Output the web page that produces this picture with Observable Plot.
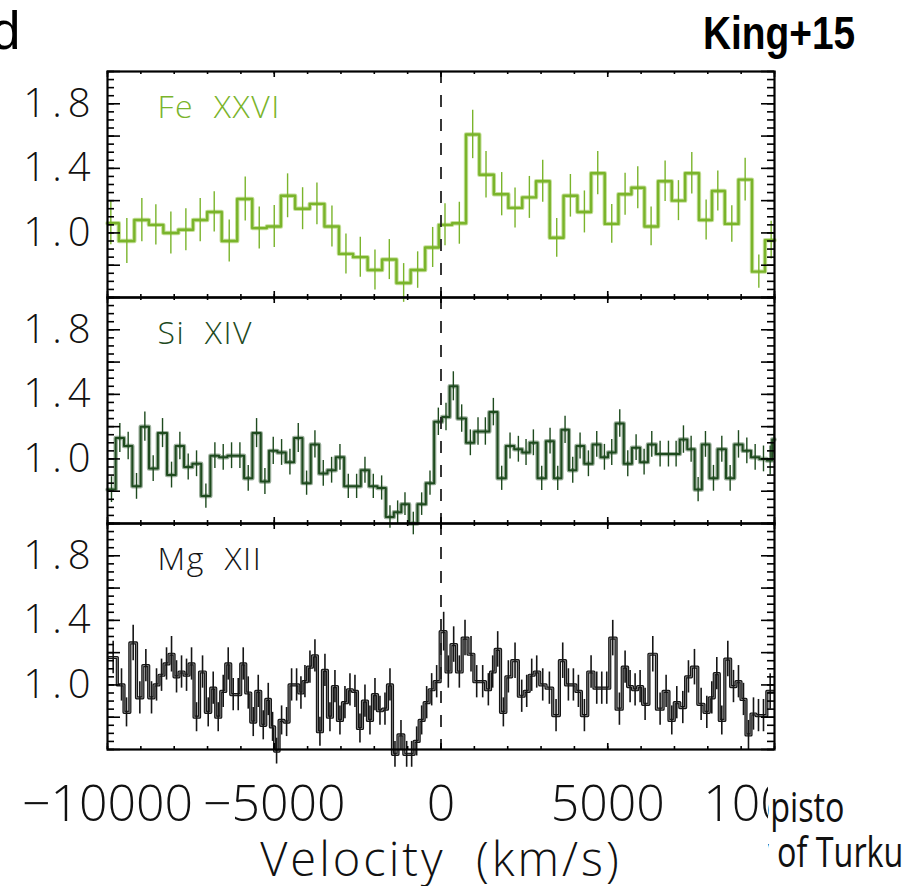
<!DOCTYPE html>
<html>
<head>
<meta charset="utf-8">
<script src="https://cdn.jsdelivr.net/npm/d3@7"></script>
<script src="https://cdn.jsdelivr.net/npm/@observablehq/plot@0.6"></script>
<style>
  html, body { margin: 0; padding: 0; background: #fff; }
  #fig { position: relative; width: 918px; height: 886px; overflow: hidden; background: #fff; }
  #chart svg { display: block; }
  #chart g[aria-label="y-axis tick label"] text { letter-spacing: 6px; }
  #chart g[aria-label="text"] text { letter-spacing: 3px; }
  #chart g[aria-label="text"].panel-title text { letter-spacing: 1.5px; }
  .tag { position: absolute; white-space: nowrap; line-height: 1; color: #000; }
  .letter { left: -9px; top: 0px; font: 53px "Liberation Sans", Arial, sans-serif; }
  .ref { right: 63px; top: 6px; font: bold 46px "Liberation Sans", Arial, sans-serif;
         transform: scaleX(0.845); transform-origin: right center; }
  .badge { position: absolute; left: 768px; top: 762px; width: 150px; height: 124px;
           background: #fff; overflow: hidden; }
  .badge div { position: absolute; white-space: nowrap; font: 42px "Open Sans", sans-serif;
               line-height: 45px; color: #111; transform: scaleX(0.77); transform-origin: right center; }
</style>
</head>
<body>
<div id="fig">
  <div id="chart"></div>
  <div class="tag letter">d</div>
  <div class="tag ref">King+15</div>
  <div class="badge">
    <div style="right:73px; top:21px;">Turun yliopisto</div>
    <div style="right:15px; top:66px;">University of Turku</div>
  </div>
</div>
<script>
// Panels (ion lines), top to bottom, and their colours
const panels = ["Fe XXVI", "Si XIV", "Mg XII"];
const panelTitles = ["Fe\u00a0\u00a0XXVI", "Si\u00a0\u00a0XIV", "Mg\u00a0\u00a0XII"];
const panelColors = ["#7ab42b", "#1e4a1e", "#151515"];
const haloColors = ["#c6e09c", "#9db09d", "#8a8a8a"];

// Axis ticks
const xTickValues = [-10000, -5000, 0, 5000, 10000];
const yTickValues = [1.0, 1.4, 1.8];
const yDomain = [0.6, 2.0];

// Fe XXVI: bin centre velocity (km/s), normalised flux, 1-sigma error
const feVelocity = [-9900, -9420, -8970, -8550, -8100, -7650, -7220, -6800, -6350, -5870,
  -5450, -5000, -4600, -4150, -3720, -3270, -2850, -2420, -1980, -1550,
  -1120, -700, -250, 120, 550, 950, 1350, 1820, 2220, 2650,
  3050, 3470, 3880, 4300, 4700, 5120, 5520, 5900, 6300, 6720,
  7120, 7520, 7950, 8300, 8720, 9120, 9530, 9900];
const feFlux = [1.06, 0.95, 1.08, 1.05, 1.00, 1.02, 1.08, 1.13, 0.95, 1.21,
  1.03, 1.04, 1.23, 1.15, 1.18, 1.04, 0.87, 0.85, 0.77, 0.835,
  0.69, 0.77, 0.91, 1.05, 1.06, 1.61, 1.36, 1.24, 1.155, 1.22,
  1.32, 0.97, 1.23, 1.13, 1.37, 1.056, 1.24, 1.28, 1.04, 1.32,
  1.20, 1.37, 1.08, 1.26, 1.056, 1.33, 0.76, 0.955];
const feError = [0.134, 0.14, 0.134, 0.125, 0.13, 0.13, 0.134, 0.125, 0.13, 0.136,
  0.13, 0.13, 0.136, 0.13, 0.13, 0.127, 0.124, 0.124, 0.124, 0.124,
  0.12, 0.113, 0.124, 0.13, 0.13, 0.15, 0.144, 0.134, 0.124, 0.13,
  0.13, 0.12, 0.132, 0.13, 0.134, 0.12, 0.13, 0.13, 0.12, 0.126,
  0.124, 0.129, 0.124, 0.124, 0.113, 0.132, 0.103, 0.117];

// Si XIV
const siVelocity = [-9880, -9630, -9380, -9130, -8880, -8630, -8350, -8080, -7830, -7580,
  -7330, -7050, -6780, -6530, -6280, -6030, -5780, -5530, -5280, -5030,
  -4780, -4530, -4280, -4030, -3780, -3530, -3280, -3030, -2780, -2530,
  -2280, -2030, -1780, -1530, -1300, -1080, -830, -580, -330, -80,
  150, 370, 620, 880, 1110, 1330, 1570, 1820, 2070, 2320,
  2550, 2770, 3020, 3270, 3500, 3720, 3950, 4170, 4420, 4670,
  4900, 5120, 5360, 5600, 5850, 6090, 6320, 6570, 6820, 7050,
  7270, 7500, 7710, 7930, 8170, 8420, 8670, 8920, 9170, 9420,
  9670, 9870, 9990];
const siFlux = [0.81, 1.13, 1.08, 0.83, 1.20, 0.94, 1.16, 0.90, 1.08, 0.95,
  0.97, 0.77, 1.02, 1.01, 1.02, 1.02, 0.88, 1.16, 0.86, 1.05,
  1.04, 0.98, 1.13, 0.85, 1.09, 0.91, 0.93, 1.01, 0.83, 0.83,
  0.93, 0.83, 0.82, 0.64, 0.67, 0.72, 0.60, 0.72, 0.85, 1.23,
  1.26, 1.45, 1.25, 1.10, 1.17, 1.17, 1.29, 0.88, 1.08, 1.06,
  1.04, 1.10, 0.88, 1.11, 0.88, 1.18, 0.93, 1.08, 0.97, 1.09,
  1.01, 1.04, 1.22, 0.97, 1.07, 0.98, 1.09, 1.03, 1.03, 1.03,
  1.12, 1.06, 0.81, 1.09, 0.88, 1.06, 0.88, 1.09, 1.05, 1.01,
  1.00, 0.99, 1.12];
const siError = [0.08, 0.09, 0.085, 0.08, 0.09, 0.08, 0.09, 0.08, 0.085, 0.08,
  0.08, 0.075, 0.08, 0.08, 0.08, 0.08, 0.08, 0.09, 0.08, 0.085,
  0.08, 0.08, 0.09, 0.075, 0.085, 0.08, 0.08, 0.08, 0.075, 0.075,
  0.08, 0.075, 0.075, 0.07, 0.07, 0.07, 0.07, 0.07, 0.075, 0.085,
  0.085, 0.09, 0.085, 0.08, 0.085, 0.085, 0.085, 0.075, 0.08, 0.08,
  0.08, 0.08, 0.075, 0.08, 0.075, 0.085, 0.08, 0.08, 0.08, 0.08,
  0.08, 0.08, 0.085, 0.08, 0.08, 0.08, 0.08, 0.08, 0.08, 0.08,
  0.085, 0.08, 0.075, 0.08, 0.08, 0.08, 0.08, 0.085, 0.08, 0.08,
  0.08, 0.09, 0.09];

// Mg XII
const mgVelocity = [-9830, -9580, -9430, -9230, -9030, -8850, -8680, -8530, -8380, -8230,
  -8080, -7930, -7780, -7630, -7480, -7330, -7150, -6980, -6830, -6680,
  -6530, -6380, -6230, -6080, -5930, -5780, -5630, -5480, -5330, -5180,
  -5050, -4930, -4780, -4630, -4480, -4330, -4200, -4080, -3930, -3780,
  -3630, -3480, -3330, -3180, -3030, -2880, -2730, -2580, -2430, -2280,
  -2130, -1980, -1830, -1680, -1530, -1380, -1200, -1030, -880, -730,
  -580, -430, -280, -130,
  80, 220, 380, 550, 720, 900, 1070, 1250, 1420, 1550,
  1700, 1870, 2020, 2220, 2420, 2570, 2720, 2870, 3050, 3250,
  3450, 3650, 3820, 3970, 4120, 4300, 4500, 4670, 4820, 4970,
  5150, 5350, 5520, 5670, 5820, 5970, 6120, 6350, 6570, 6750,
  6920, 7070, 7250, 7420, 7600, 7800, 7970, 8120, 8270, 8420,
  8600, 8770, 8920, 9070, 9220, 9370, 9520, 9670, 9870];
const mgFlux = [1.17, 1.00, 0.83, 1.26, 0.92, 1.12, 0.92, 1.00, 1.06, 1.13,
  1.19, 1.05, 1.08, 1.06, 1.13, 0.80, 1.08, 0.83, 0.98, 0.80,
  0.96, 1.13, 0.94, 0.94, 1.13, 0.95, 0.77, 0.96, 0.75, 0.91,
  0.74, 0.59, 0.78, 0.77, 1.00, 1.00, 0.95, 1.02, 1.11, 1.18,
  0.71, 1.09, 0.80, 0.99, 0.78, 0.89, 0.97, 0.96, 0.73, 0.90,
  0.78, 0.94, 0.84, 0.85, 1.00, 0.57, 0.69, 0.57, 0.57, 0.65,
  0.78, 0.89, 0.97, 1.02,
  1.33, 1.08, 1.25, 1.08, 1.29, 1.19, 1.02, 1.02, 0.97, 1.08,
  1.22, 0.83, 1.05, 1.15, 0.93, 0.96, 1.06, 1.08, 1.00, 0.98,
  0.81, 1.15, 1.00, 1.00, 0.96, 0.81, 1.08, 0.98, 0.98, 0.98,
  1.29, 0.85, 1.11, 0.99, 0.97, 0.99, 0.88, 1.19, 0.85, 0.96,
  0.78, 0.89, 0.86, 1.05, 1.11, 0.88, 0.83, 0.92, 1.07, 0.78,
  1.16, 0.99, 1.02, 0.91, 0.69, 0.82, 0.81, 0.81, 0.96];
const mgError = [0.1, 0.1, 0.09, 0.11, 0.1, 0.1, 0.1, 0.1, 0.1, 0.1,
  0.11, 0.1, 0.1, 0.1, 0.1, 0.09, 0.1, 0.09, 0.1, 0.09,
  0.1, 0.1, 0.1, 0.1, 0.1, 0.1, 0.09, 0.1, 0.09, 0.1,
  0.09, 0.08, 0.09, 0.09, 0.1, 0.1, 0.1, 0.1, 0.1, 0.1,
  0.09, 0.1, 0.09, 0.1, 0.09, 0.1, 0.1, 0.1, 0.09, 0.1,
  0.09, 0.1, 0.09, 0.1, 0.1, 0.08, 0.09, 0.08, 0.08, 0.09,
  0.09, 0.1, 0.1, 0.1,
  0.12, 0.1, 0.11, 0.1, 0.11, 0.11, 0.1, 0.1, 0.1, 0.1,
  0.11, 0.09, 0.1, 0.11, 0.1, 0.1, 0.1, 0.1, 0.1, 0.1,
  0.1, 0.11, 0.1, 0.1, 0.1, 0.1, 0.1, 0.1, 0.1, 0.1,
  0.11, 0.1, 0.1, 0.1, 0.1, 0.1, 0.1, 0.11, 0.1, 0.1,
  0.09, 0.1, 0.1, 0.1, 0.11, 0.1, 0.1, 0.1, 0.1, 0.09,
  0.11, 0.1, 0.1, 0.1, 0.09, 0.1, 0.1, 0.1, 0.11];

const xMin = d3.min(xTickValues), xMax = d3.max(xTickValues);

// Each bin spans halfway to its neighbours; the outer bins are cut at the plot edges.
function makeBins(panel, velocity, flux, error) {
  return velocity.map((v, i) => {
    const prev = velocity[i - 1], next = velocity[i + 1];
    const x0 = prev === undefined ? v - (next - v) / 2 : (prev + v) / 2;
    const x1 = next === undefined ? v + (v - prev) / 2 : (v + next) / 2;
    return {panel, v, flux: flux[i], err: error[i], x0: Math.max(x0, xMin), x1: Math.min(x1, xMax)};
  });
}

const series = [
  makeBins(panels[0], feVelocity, feFlux, feError),
  makeBins(panels[1], siVelocity, siFlux, siError),
  makeBins(panels[2], mgVelocity, mgFlux, mgError)
];

// Histogram outline: two vertices per bin
const steps = series.map(bins => bins.flatMap(b => [
  {panel: b.panel, x: b.x0, y: b.flux},
  {panel: b.panel, x: b.x1, y: b.flux}
]));

// Plot geometry
const width = 918, height = 886;
const marginLeft = 107, marginRight = 144, marginTop = 71, marginBottom = 137;
const frameW = width - marginLeft - marginRight;
const panelH = (height - marginTop - marginBottom) / panels.length;

// Inward tick marks: minor/major on both velocity and flux axes
const xMinor = d3.range(xMin, xMax + 1, 1000);
const xMajor = d3.range(xMin, xMax + 1, 5000);
const yMinor = d3.range(0, 29).map(i => +(yDomain[0] + i * 0.05).toFixed(2));
const yMajor = d3.range(0, 8).map(i => +(yDomain[0] + i * 0.2).toFixed(2));

const marks = [];
series.forEach((bins, k) => {
  const color = panelColors[k];
  if (k === 2) {
    marks.push(Plot.line(steps[k], {x: "x", y: "y", fy: "panel", stroke: color, strokeWidth: 3.2}));
    marks.push(Plot.line(steps[k], {x: "x", y: "y", fy: "panel", stroke: haloColors[k], strokeWidth: 0.9}));
  } else {
    marks.push(Plot.line(steps[k], {x: "x", y: "y", fy: "panel", stroke: haloColors[k], strokeWidth: 4.4}));
    marks.push(Plot.line(steps[k], {x: "x", y: "y", fy: "panel", stroke: color, strokeWidth: k === 0 ? 2.4 : 2}));
  }
  marks.push(Plot.ruleX(bins, {
    x: "v", y1: d => d.flux - d.err, y2: d => d.flux + d.err,
    fy: "panel", stroke: color, strokeWidth: k === 2 ? 1.6 : 1.4
  }));
});

const tickStyle = {stroke: "#000", strokeWidth: 1.6};
marks.push(
  Plot.ruleX([0], {stroke: "#222", strokeWidth: 1.8, strokeDasharray: "12,12"}),
  Plot.frame({stroke: "#000", strokeWidth: 2.2}),
  // velocity ticks along the bottom and top of every panel
  Plot.ruleX(xMinor, {...tickStyle, insetTop: panelH - 3}),
  Plot.ruleX(xMajor, {...tickStyle, insetTop: panelH - 6}),
  Plot.ruleX(xMinor, {...tickStyle, insetBottom: panelH - 3}),
  Plot.ruleX(xMajor, {...tickStyle, insetBottom: panelH - 6}),
  // flux ticks along the left and right of every panel
  Plot.ruleY(yMinor, {...tickStyle, insetRight: frameW - 7}),
  Plot.ruleY(yMajor, {...tickStyle, insetRight: frameW - 13}),
  Plot.ruleY(yMinor, {...tickStyle, insetLeft: frameW - 7}),
  Plot.ruleY(yMajor, {...tickStyle, insetLeft: frameW - 13}),
  Plot.axisY({ticks: yTickValues, tickSize: 0, tickPadding: 11, tickFormat: d3.format(".1f"),
    fontSize: 40, fontWeight: 300, label: null, fill: "#111"}),
  Plot.axisX({ticks: xTickValues, tickSize: 0, tickPadding: 36, tickFormat: d3.format("d"),
    fontSize: 50, fontWeight: 300, label: null, fill: "#111"}),
  Plot.text(panels.map((p, k) => ({panel: p, title: panelTitles[k], color: panelColors[k]})), {
    fy: "panel", text: "title", fill: "color", frameAnchor: "top-left", textAnchor: "start",
    lineAnchor: "top", dx: 50, dy: 24, fontSize: 32, fontWeight: 300
  }),
  Plot.text([{panel: panels[2], label: "Velocity\u00a0\u00a0(km/s)"}], {
    fy: "panel", text: "label", frameAnchor: "bottom", lineAnchor: "top", dy: 93,
    fontSize: 47, fontWeight: 300, fill: "#111"
  })
);

const chart = Plot.plot({
  width, height, marginLeft, marginRight, marginTop, marginBottom,
  style: {fontFamily: "'Open Sans', sans-serif", background: "#fff", overflow: "visible"},
  x: {domain: [xMin, xMax]},
  y: {domain: yDomain},
  fy: {domain: panels, padding: 0, axis: null, label: null},
  marks
});
// the first text layer holds the panel titles; give them tighter spacing
const textLayers = chart.querySelectorAll('g[aria-label="text"]');
if (textLayers.length) textLayers[0].classList.add("panel-title");
document.getElementById("chart").appendChild(chart);
</script>
</body>
</html>
